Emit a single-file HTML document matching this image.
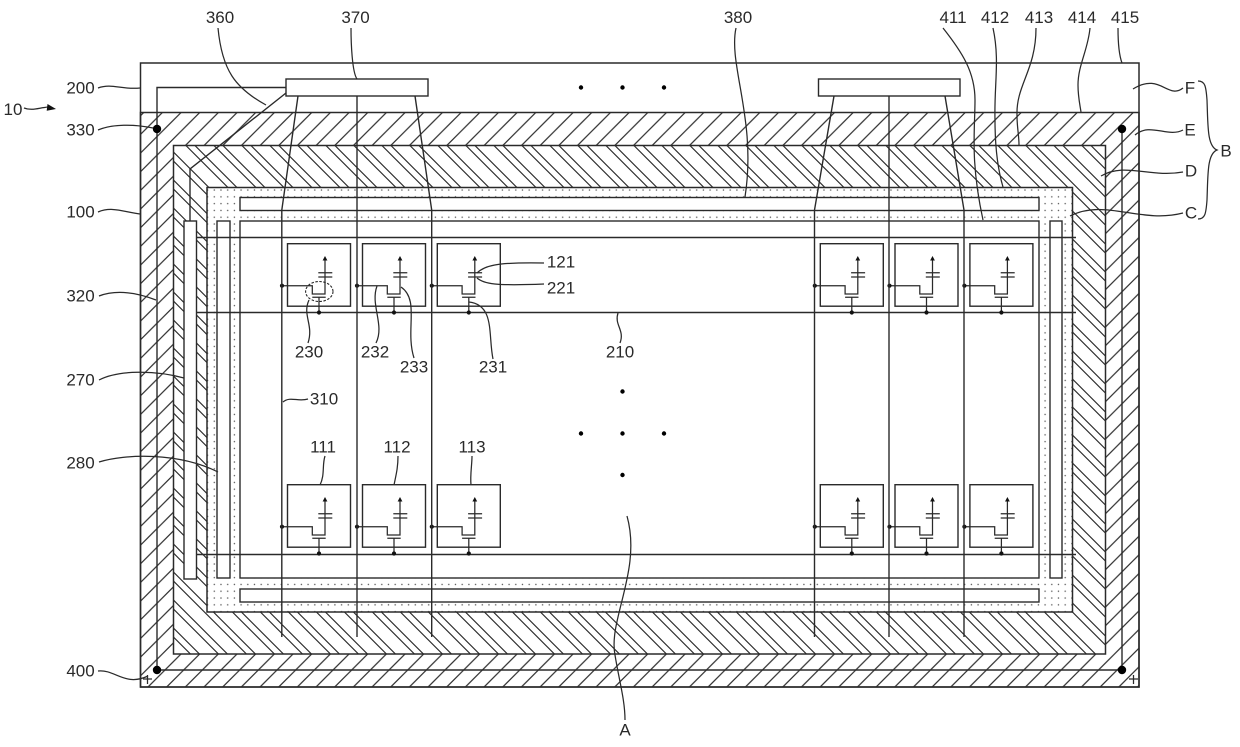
<!DOCTYPE html>
<html>
<head>
<meta charset="utf-8">
<style>
html,body{margin:0;padding:0;background:#fff;width:1240px;height:747px;overflow:hidden}
svg{display:block}
text{font-family:"Liberation Sans",sans-serif;font-size:17px;fill:#2a2a2a;text-anchor:middle;dominant-baseline:central}
.l{fill:none;stroke:#2a2a2a;stroke-width:1.4}
.c{fill:none;stroke:#2a2a2a;stroke-width:1.25}
.w{fill:#fff;stroke:#2a2a2a;stroke-width:1.4}
</style>
</head>
<body>
<svg width="1240" height="747" viewBox="0 0 1240 747" xmlns="http://www.w3.org/2000/svg">
<defs>
<pattern id="hE" patternUnits="userSpaceOnUse" width="18.67" height="18.67">
<path d="M-2 15.52L15.52 -2M20.67 11.52L11.52 20.67" fill="none" stroke="#2a2a2a" stroke-width="1.15"/>
</pattern>
<pattern id="hD" patternUnits="userSpaceOnUse" width="28" height="28">
<path d="M10.4 -2L30 17.6M-2 13.6L14.4 30M19.4 -2L30 8.6M-2 4.6L23.4 30" fill="none" stroke="#2a2a2a" stroke-width="1.15"/>
</pattern>
<pattern id="st" patternUnits="userSpaceOnUse" x="211" y="186.6" width="6.7" height="6.8">
<circle cx="3.3" cy="3.4" r=".75" fill="#555"/>
</pattern>
<g id="cell">
<rect x="287.5" y="243.7" width="63" height="62.5" fill="#fff" stroke="#2a2a2a" stroke-width="1.4"/>
<path class="c" d="M282 285.7H312.3V294H325V259M318.3 272.7H332.3M318.3 277H332.3M312.3 297.3H325.7M319 297.3V312.5"/>
<polygon points="325,256 322.6,260.5 327.4,260.5" fill="#111"/>
<circle cx="282" cy="285.7" r="2.1" fill="#111"/>
<circle cx="319" cy="312.5" r="2.1" fill="#111"/>
</g>
</defs>

<!-- panels -->
<rect x="140.5" y="63" width="998.5" height="624" fill="#fff" stroke="#2a2a2a" stroke-width="1.5"/>
<rect x="140.5" y="112.5" width="998.5" height="574.5" fill="url(#hE)" stroke="#2a2a2a" stroke-width="1.5"/>
<rect x="173.5" y="145.5" width="932" height="508.5" fill="#fff"/>
<rect x="173.5" y="145.5" width="932" height="508.5" fill="url(#hD)" stroke="#2a2a2a" stroke-width="1.5"/>
<rect x="207" y="187.5" width="865.5" height="424.5" fill="#fff"/>
<rect x="207" y="187.5" width="865.5" height="424.5" fill="url(#st)" stroke="#2a2a2a" stroke-width="1.5"/>
<rect class="w" x="240" y="221" width="799" height="357"/>
<rect class="w" x="240" y="197.5" width="799" height="13"/>
<rect class="w" x="240" y="589" width="799" height="13"/>
<rect class="w" x="217" y="221" width="13" height="357"/>
<rect class="w" x="1050" y="221" width="12" height="357"/>
<rect class="w" x="184" y="221" width="12.5" height="358"/>

<!-- row lines -->
<path class="l" d="M196.5 237.5H1076M196.5 312.5H1076M196.5 554.5H1076"/>

<!-- cells -->
<use href="#cell"/>
<use href="#cell" x="75"/>
<use href="#cell" x="149.8"/>
<use href="#cell" x="532.8"/>
<use href="#cell" x="607.5"/>
<use href="#cell" x="682.4"/>
<use href="#cell" y="241"/>
<use href="#cell" x="75" y="241"/>
<use href="#cell" x="149.8" y="241"/>
<use href="#cell" x="532.8" y="241"/>
<use href="#cell" x="607.5" y="241"/>
<use href="#cell" x="682.4" y="241"/>
<ellipse cx="319.3" cy="291.5" rx="13.7" ry="10" fill="none" stroke="#2a2a2a" stroke-width="1.1" stroke-dasharray="2.5 1.5"/>

<!-- data lines -->
<path class="l" d="M298 96L281.8 210V637M357 96V637M415 96L431.7 210V637"/>
<path class="l" d="M834 96L814.5 210V637M889 96V637M945 96L964 210V637"/>

<!-- power ring and link -->
<path class="l" d="M286 87.5H157V670H1122V129"/>
<path class="l" d="M286 93L190 169V221"/>
<circle cx="157" cy="129" r="4.2" fill="#000"/>
<circle cx="157" cy="670" r="4.2" fill="#000"/>
<circle cx="1122" cy="129" r="4.2" fill="#000"/>
<circle cx="1122" cy="670" r="4.2" fill="#000"/>
<path class="c" d="M143 679H152M147.500 675V684M1129 679H1138M1133.500 675V684"/>

<rect class="w" x="286" y="79" width="142" height="17"/>
<rect class="w" x="818.500" y="79" width="141.500" height="17"/>

<!-- ellipsis dots -->
<g fill="#000">
<circle cx="581" cy="87.500" r="2.200"/><circle cx="622.500" cy="87.500" r="2.200"/><circle cx="664" cy="87.500" r="2.200"/>
<circle cx="622.500" cy="391.500" r="2.200"/><circle cx="581" cy="433.500" r="2.200"/><circle cx="622.500" cy="433.500" r="2.200"/><circle cx="664" cy="433.500" r="2.200"/><circle cx="622.500" cy="475" r="2.200"/>
</g>

<!-- leaders -->
<g>
<path class="c" d="M98 88C112 83 122 90 140 88"/>
<path class="c" d="M98 130C112 124 134 124 153 128"/>
<path class="c" d="M98 212C112 206 124 212 140 214"/>
<path class="c" d="M99 296C115 290 135 292 156 300"/>
<path class="c" d="M99 380C118 370 155 370 184 378"/>
<path class="c" d="M99 462C125 454 178 452 218 472"/>
<path class="c" d="M98 671C115 669 125 687 148 676"/>
<path class="c" d="M24 108C32 111 38 108 48 107"/>
<path class="c" d="M218 28C222 70 235 88 266 105"/>
<path class="c" d="M351 28C351 42 352 72 357 79"/>
<path class="c" d="M736 28C728 65 757 120 745 197"/>
<path class="c" d="M943 28C962 52 975 72 975 100C975 130 970 160 983 220"/>
<path class="c" d="M993 28C1000 60 994 85 995 120C995 150 998 170 1003 187"/>
<path class="c" d="M1036 28C1036 70 1016 85 1017 115C1017 128 1019 135 1019 145"/>
<path class="c" d="M1090 28C1088 50 1078 65 1078 85C1078 97 1080 105 1081 112"/>
<path class="c" d="M1118 28C1118 40 1119 55 1122 63"/>
<path class="c" d="M1133 89C1160 72 1168 100 1183 88"/>
<path class="c" d="M1135 135C1150 122 1168 138 1183 130"/>
<path class="c" d="M1101 176C1125 162 1150 178 1183 172"/>
<path class="c" d="M1070 216C1105 198 1140 224 1183 213"/>
<path class="c" d="M1198 81C1205 81 1206 86 1207 100C1208 125 1207 146 1217 150C1207 154 1208 175 1207 200C1206 214 1205 219 1198 219"/>
<path class="c" d="M627 516C642 570 608 620 615 655C619 680 625 700 625 720"/>
<path class="c" d="M477 273C484 266 495 262 544 263"/>
<path class="c" d="M477 278C484 284 495 286 544 284"/>
<path class="c" d="M309 300C302 315 314 325 308 343"/>
<path class="c" d="M377 286C370 305 385 325 376 343"/>
<path class="c" d="M401 287C420 300 405 330 414 358"/>
<path class="c" d="M469 302C495 305 488 335 493 359"/>
<path class="c" d="M618 313C614 325 625 330 620 343"/>
<path class="c" d="M283 402C290 396 298 402 308 399"/>
<path class="c" d="M325 456C322 465 325 475 320 485"/>
<path class="c" d="M398 456C398 468 396 475 394 485"/>
<path class="c" d="M472 456C472 465 470 475 471 485"/>
</g>
<polygon points="56,109 47.500,104 46.700,110.700" fill="#111"/>

<!-- labels -->
<text x="80.500" y="88">200</text>
<text x="80.500" y="129.800">330</text>
<text x="80.500" y="212">100</text>
<text x="80.500" y="296">320</text>
<text x="80.500" y="380">270</text>
<text x="80.500" y="463">280</text>
<text x="80.500" y="671">400</text>
<text x="13" y="109.500">10</text>
<text x="220" y="17.700">360</text>
<text x="355.500" y="17.700">370</text>
<text x="738" y="17.700">380</text>
<text x="953" y="17.700">411</text>
<text x="995" y="17.700">412</text>
<text x="1039" y="17.700">413</text>
<text x="1082" y="17.700">414</text>
<text x="1125" y="17.700">415</text>
<text x="309" y="352">230</text>
<text x="375" y="352">232</text>
<text x="414" y="367">233</text>
<text x="493" y="367">231</text>
<text x="620" y="352">210</text>
<text x="561" y="262">121</text>
<text x="561" y="288">221</text>
<text x="324" y="399">310</text>
<text x="323" y="447">111</text>
<text x="397" y="447">112</text>
<text x="472" y="447">113</text>
<text x="1190" y="88">F</text>
<text x="1190" y="130">E</text>
<text x="1191" y="171">D</text>
<text x="1191" y="213">C</text>
<text x="1226" y="151">B</text>
<text x="625" y="730">A</text>
</svg>
</body>
</html>
